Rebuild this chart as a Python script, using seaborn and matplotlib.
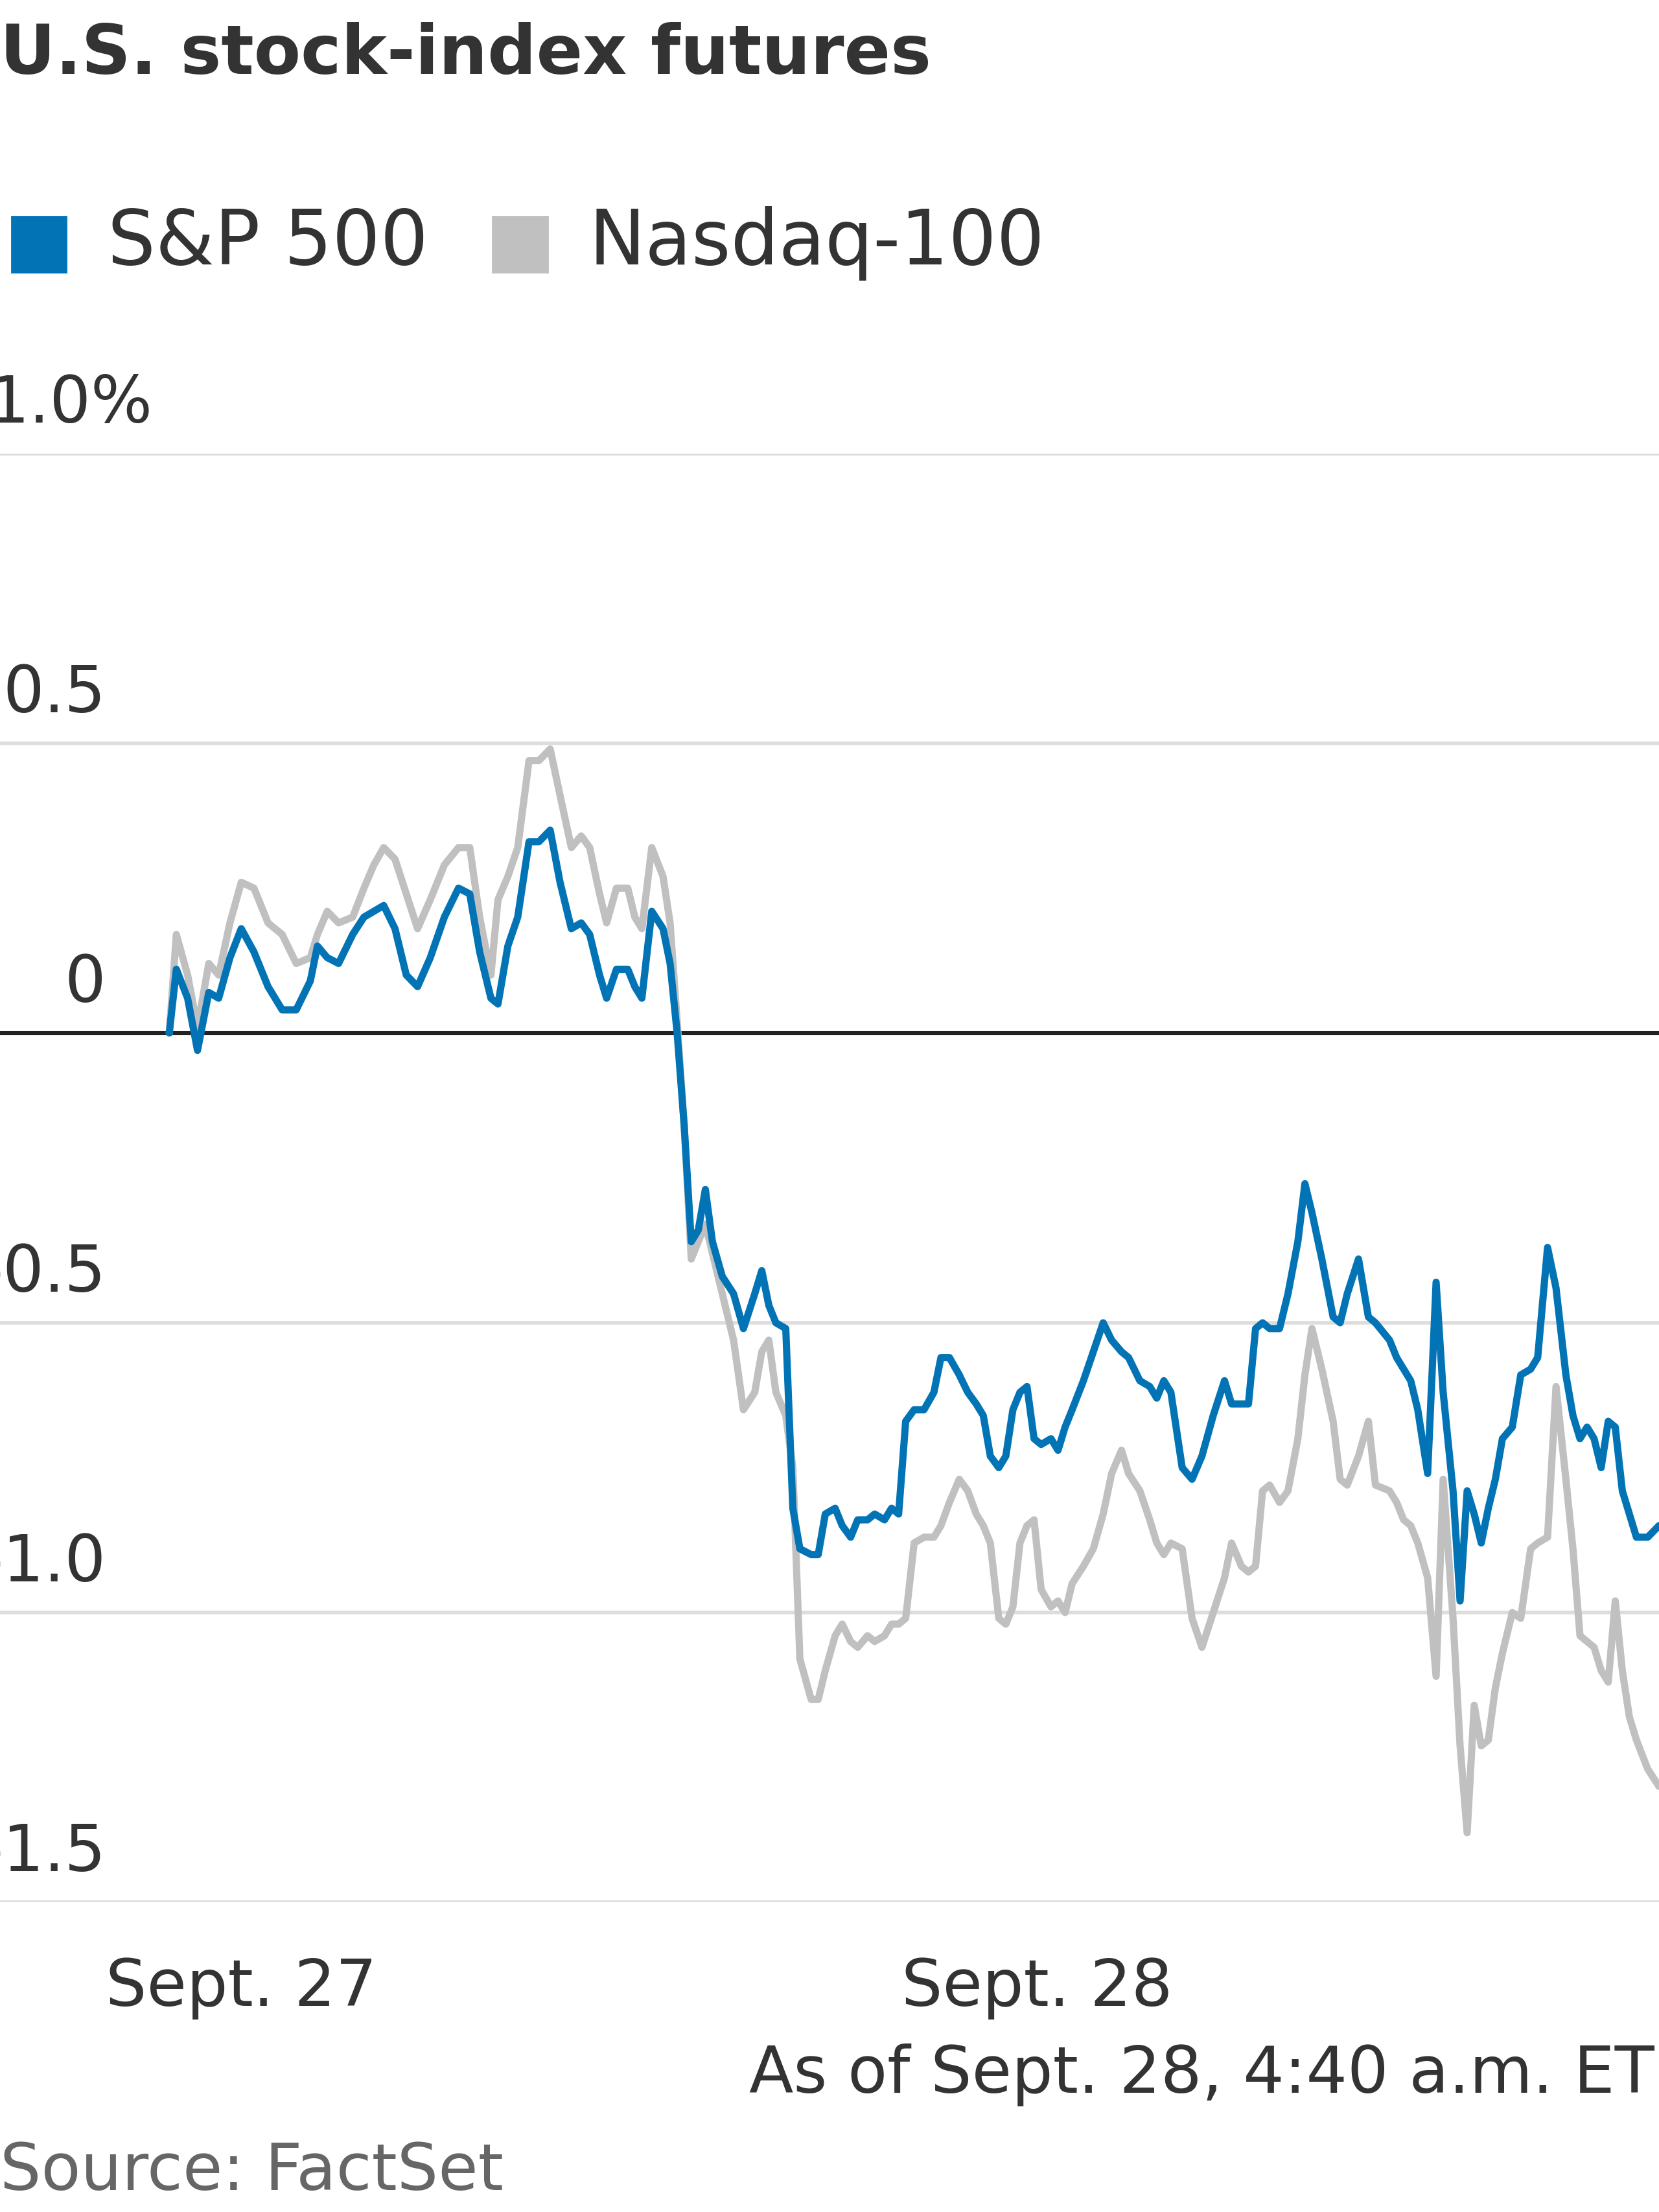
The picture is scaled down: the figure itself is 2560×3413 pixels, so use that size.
import matplotlib
matplotlib.use("Agg")
import matplotlib.pyplot as plt
import seaborn as sns
import pandas as pd
import numpy as np

# horizontal positions of samples (chart units; 23.5 units = 1 hour, 171 = Sept. 27 00:00)
t = [120,125,133,140,148,155,163,171,180,190,200,210,220,225,232,240,250,258,265,272,280,288,296,305,315,325,333,340,348,353,360,367,375,382,390,397,405,412,418,425,430,437,445,450,455,462,470,475,480,485,490,495,500,505,512,520,527,535,540,545,550,557,562,567,575,580,585,592,597,603,608,615,620,627,632,637,642,648,655,662,667,673,680,686,692,697,702,708,713,718,723,728,733,738,745,750,755,760,768,775,782,788,795,800,808,815,820,825,830,838,845,852,860,868,873,880,885,890,895,900,907,913,920,925,930,937,945,950,955,963,970,975,985,990,995,1000,1005,1012,1018,1023,1030,1035,1040,1045,1050,1055,1060,1065,1072,1078,1085,1090,1097,1103,1110,1115,1120,1125,1130,1135,1140,1145,1150,1155,1160,1168,1176]

sp500 = [0,0.11,0.06,-0.03,0.07,0.06,0.13,0.18,0.14,0.08,0.04,0.04,0.09,0.15,0.13,0.12,0.17,0.20,0.21,0.22,0.18,0.10,0.08,0.13,0.20,0.25,0.24,0.14,0.06,0.05,0.15,0.20,0.33,0.33,0.35,0.26,0.18,0.19,0.17,0.10,0.06,0.11,0.11,0.08,0.06,0.21,0.18,0.12,0.00,-0.16,-0.36,-0.34,-0.27,-0.36,-0.42,-0.45,-0.51,-0.45,-0.41,-0.47,-0.50,-0.51,-0.82,-0.89,-0.90,-0.90,-0.83,-0.82,-0.85,-0.87,-0.84,-0.84,-0.83,-0.84,-0.82,-0.83,-0.67,-0.65,-0.65,-0.62,-0.56,-0.56,-0.59,-0.62,-0.64,-0.66,-0.73,-0.75,-0.73,-0.65,-0.62,-0.61,-0.70,-0.71,-0.70,-0.72,-0.68,-0.65,-0.60,-0.55,-0.50,-0.53,-0.55,-0.56,-0.60,-0.61,-0.63,-0.60,-0.62,-0.75,-0.77,-0.73,-0.66,-0.60,-0.64,-0.64,-0.64,-0.51,-0.50,-0.51,-0.51,-0.45,-0.36,-0.26,-0.31,-0.39,-0.49,-0.50,-0.45,-0.39,-0.49,-0.50,-0.53,-0.56,-0.58,-0.60,-0.65,-0.76,-0.43,-0.62,-0.79,-0.98,-0.79,-0.83,-0.88,-0.82,-0.77,-0.70,-0.68,-0.59,-0.58,-0.56,-0.37,-0.44,-0.59,-0.66,-0.70,-0.68,-0.70,-0.75,-0.67,-0.68,-0.79,-0.83,-0.87,-0.87,-0.85]

nasdaq = [0,0.17,0.10,0.01,0.12,0.10,0.19,0.26,0.25,0.19,0.17,0.12,0.13,0.17,0.21,0.19,0.20,0.25,0.29,0.32,0.30,0.24,0.18,0.23,0.29,0.32,0.32,0.20,0.10,0.23,0.27,0.32,0.47,0.47,0.49,0.41,0.32,0.34,0.32,0.24,0.19,0.25,0.25,0.20,0.18,0.32,0.27,0.19,0.02,-0.16,-0.39,-0.36,-0.33,-0.38,-0.45,-0.53,-0.65,-0.62,-0.55,-0.53,-0.62,-0.66,-0.75,-1.08,-1.15,-1.15,-1.10,-1.04,-1.02,-1.05,-1.06,-1.04,-1.05,-1.04,-1.02,-1.02,-1.01,-0.88,-0.87,-0.87,-0.85,-0.81,-0.77,-0.79,-0.83,-0.85,-0.88,-1.01,-1.02,-0.99,-0.88,-0.85,-0.84,-0.96,-0.99,-0.98,-1.00,-0.95,-0.92,-0.89,-0.83,-0.76,-0.72,-0.76,-0.79,-0.84,-0.88,-0.90,-0.88,-0.89,-1.01,-1.06,-1.00,-0.94,-0.88,-0.92,-0.93,-0.92,-0.79,-0.78,-0.81,-0.79,-0.70,-0.59,-0.51,-0.58,-0.67,-0.77,-0.78,-0.73,-0.67,-0.78,-0.79,-0.81,-0.84,-0.85,-0.88,-0.94,-1.11,-0.77,-1.01,-1.23,-1.38,-1.16,-1.23,-1.22,-1.13,-1.07,-1.00,-1.01,-0.89,-0.88,-0.87,-0.61,-0.77,-0.89,-1.04,-1.05,-1.06,-1.10,-1.12,-0.98,-1.10,-1.18,-1.22,-1.27,-1.30,-1.28]

y_ticks = [1.0, 0.5, 0, -0.5, -1.0, -1.5]
y_labels = ["1.0%", "0.5", "0", "-0.5", "-1.0", "-1.5"]
x_major = [0, 24]
x_major_labels = ["Sept. 27", "Sept. 28"]

n = min(len(t), len(sp500), len(nasdaq))
hours = (np.array(t[:n]) - 171) / 23.5
df_sp = pd.DataFrame({"h": hours, "v": sp500[:n]})
df_nq = pd.DataFrame({"h": hours, "v": nasdaq[:n]})

sns.set_theme(style="white")
FONT = ["Liberation Sans Narrow", "DejaVu Sans"]
plt.rcParams["font.family"] = FONT

BLUE = "#0274B6"
GRAY = "#C0C0C0"
TXT = "#333333"

fig = plt.figure(figsize=(12.8, 17.065), dpi=200)
ax = fig.add_axes([0, 0.14, 1, 0.655])

for y in y_ticks:
    if y != 0:
        ax.axhline(y, color="#DDDDDD", lw=2, zorder=0)
ax.axhline(0, color="#222222", lw=2.2, zorder=1)

sns.lineplot(data=df_nq, x="h", y="v", color=GRAY, lw=4, ax=ax, zorder=2)
sns.lineplot(data=df_sp, x="h", y="v", color=BLUE, lw=4, ax=ax, zorder=3)

xmin = (0 - 171) / 23.5
xmax = (1176 - 171) / 23.5
ax.set_xlim(xmin, xmax)
ax.set_ylim(-1.5, 1.0)
for s in ax.spines.values():
    s.set_visible(False)
ax.set_xlabel("")
ax.set_ylabel("")
ax.set_yticks([])
ax.set_xticks(x_major)
ax.set_xticklabels(x_major_labels, fontsize=36, color=TXT)
ax.set_xticks(np.arange(0, 44, 4), minor=True)
ax.tick_params(axis="x", which="minor", length=8, width=2, color="#333333", direction="out")
ax.tick_params(axis="x", which="major", length=16, width=2, color="#333333", pad=14, direction="out")

for y, lab in zip(y_ticks, y_labels):
    xpos = 108 / 1176 if lab.endswith("%") else 75 / 1176
    ax.text(xpos, y + 0.03, lab, transform=ax.get_yaxis_transform(),
            ha="right", va="bottom", fontsize=36, color=TXT)

fig.text(0.0, 0.975, "U.S. stock-index futures", fontsize=38, fontweight="bold",
         color=TXT, ha="left", va="center", family=FONT)
fig.patches.append(plt.Rectangle((0.007, 0.877), 0.033, 0.025, transform=fig.transFigure, color=BLUE))
fig.text(0.065, 0.890, "S&P 500", fontsize=42, color=TXT, ha="left", va="center")
fig.patches.append(plt.Rectangle((0.297, 0.877), 0.033, 0.025, transform=fig.transFigure, color=GRAY))
fig.text(0.355, 0.890, "Nasdaq-100", fontsize=42, color=TXT, ha="left", va="center")

fig.text(0.997, 0.062, "As of Sept. 28, 4:40 a.m. ET", fontsize=36, color=TXT, ha="right", va="center")
fig.text(0.0, 0.018, "Source: FactSet", fontsize=36, color="#666666", ha="left", va="center")

fig.savefig("out.png", dpi=200)
